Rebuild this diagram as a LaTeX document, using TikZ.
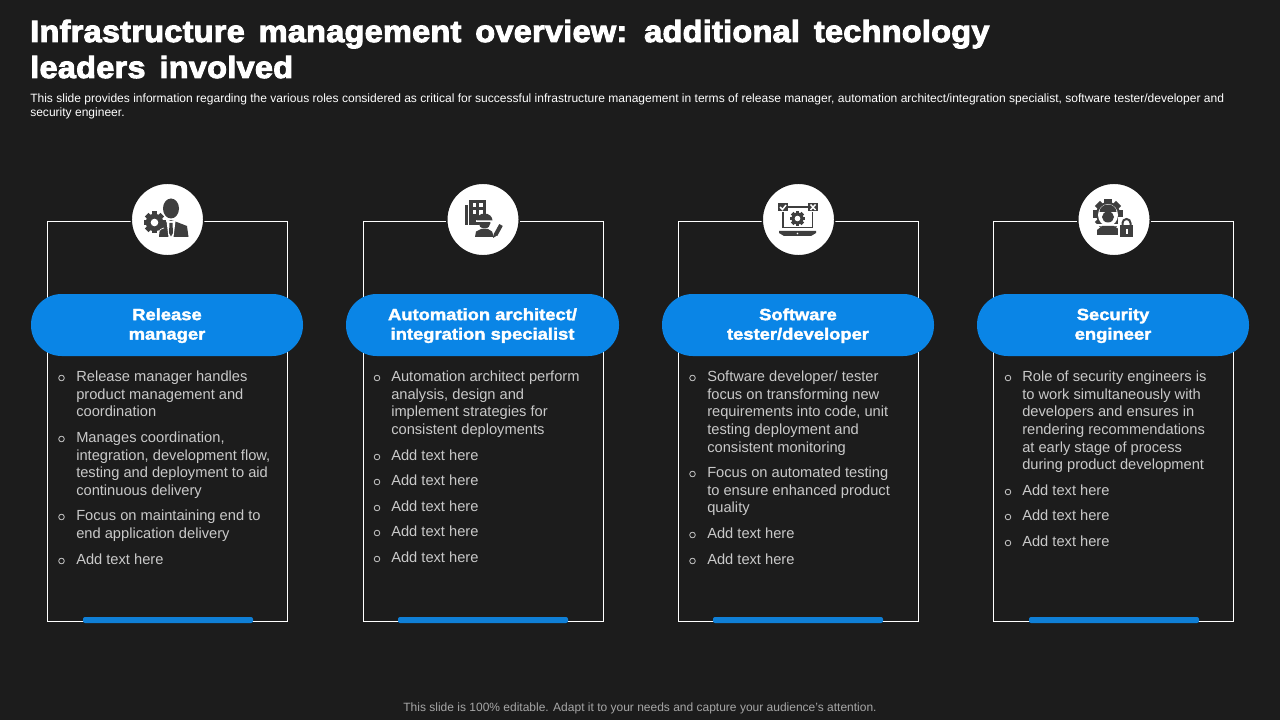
\documentclass[tikz,border=0pt]{standalone}
\usepackage{fontspec}
\setmainfont{Liberation Sans}
\newfontfamily\titlefont[FakeBold=3.2,FakeStretch=1.06,LetterSpace=0.8,WordSpace=1.5]{Liberation Sans Bold}
\newfontfamily\pillfont[FakeBold=2.2,FakeStretch=1.13]{Liberation Sans Bold}
\definecolor{bg}{HTML}{1C1C1C}
\definecolor{pill}{HTML}{0A85E6}
\definecolor{barblue}{HTML}{0F7FD6}
\definecolor{body}{HTML}{C9C9C9}
\definecolor{foot}{HTML}{A6A6A6}
\definecolor{ico}{HTML}{3E3E3E}
\tikzset{
  card/.style={draw=white,line width=0.75pt,fill=none},
  disc/.style={circle,fill=white,draw=bg,line width=1.1pt,minimum size=72.5*0.75pt,inner sep=0pt},
  pillbox/.style={rounded corners=23pt,fill=pill},
  pilltext/.style={align=center,text=white,font=\pillfont\fontsize{12.2}{14.6}\selectfont,inner sep=0pt},
  bartop/.style={rounded corners=1.5pt,fill=barblue},
  line/.style={anchor=base west,inner sep=0pt,text=body,font=\fontsize{11}{13}\selectfont},
  bul/.style={circle,draw=body,line width=0.6pt,minimum size=4.2pt,inner sep=0pt},
}
\newcommand{\gearshape}[3]{% cx cy r
  \fill[ico] (#1,#2) circle ({#3*0.8});
  \foreach \a in {0,45,...,315}{
    \fill[ico,rotate around={\a:(#1,#2)}] ({#1-#3*0.24},{#2-#3}) rectangle ({#1+#3*0.24},{#2-#3*0.6});
  }
}
\newcommand{\txt}[4]{\node[line] (#1) at (#2,#3+5.6) {#4};}
\newcommand{\bu}[3]{\node[bul] (#1) at (#2,#3+2) {};}
\begin{document}
\begin{tikzpicture}[x=0.75pt,y=-0.75pt]
\useasboundingbox (0,0) rectangle (1280,720);
\fill[bg] (0,0) rectangle (1280,720);
% heading
\node[anchor=base west,inner sep=0pt,text=white,font=\titlefont\fontsize{23}{27}\selectfont] (t1) at (30,42) {Infrastructure management overview: additional technology};
\node[anchor=base west,inner sep=0pt,text=white,font=\titlefont\fontsize{23}{27}\selectfont] (t2) at (30,78) {leaders involved};
\node[anchor=base west,inner sep=0pt,text=white,font=\fontsize{9.03}{11}\selectfont] (s1) at (30,103) {This slide provides information regarding the various roles considered as critical for successful infrastructure management in terms of release manager, automation architect/integration specialist, software tester/developer and};
\node[anchor=base west,inner sep=0pt,text=white,font=\fontsize{9.03}{11}\selectfont] (s2) at (30,117) {security engineer.};
\node[text=foot,inner sep=0pt,font=\fontsize{9}{11}\selectfont] (foot) at (640,708.5) {This slide is 100\% editable. Adapt it to your needs and capture your audience's attention.};
% cards
\draw[card] (47.5,221.5) rectangle (287.5,621.5);
\draw[card] (363.5,221.5) rectangle (603.5,621.5);
\draw[card] (678.5,221.5) rectangle (918.5,621.5);
\draw[card] (993.5,221.5) rectangle (1233.5,621.5);
% bars
\fill[bartop] (83,617) rectangle (253,623);
\fill[bartop] (398,617) rectangle (568,623);
\fill[bartop] (713,617) rectangle (883,623);
\fill[bartop] (1029,617) rectangle (1199,623);
% pills
\fill[pillbox] (31,294) rectangle (303,356);
\fill[pillbox] (346,294) rectangle (619,356);
\fill[pillbox] (662,294) rectangle (934,356);
\fill[pillbox] (977,294) rectangle (1249,356);
\node[pilltext] (p1) at (167,325.7) {Release\\manager};
\node[pilltext] (p2) at (482.5,325.7) {Automation architect/\\integration specialist};
\node[pilltext] (p3) at (798,325.7) {Software\\tester/developer};
\node[pilltext] (p4) at (1113,325.7) {Security\\engineer};
% discs
\node[disc] (d1) at (167.5,219.5) {};
\node[disc] (d2) at (483,219.5) {};
\node[disc] (d3) at (798.5,219.5) {};
\node[disc] (d4) at (1114,219.5) {};
% icon 1: manager + gear
\gearshape{154.5}{222.5}{11}
\fill[white] (154.5,222.5) circle (3.8);
\fill[ico] (171,208.5) ellipse (8 and 10);
\fill[ico] (159,237) -- (160,226) -- (165,222.5) -- (171,220) -- (178,222.5) -- (187,226) -- (188.5,237) -- cycle;
\fill[white] (166.5,221) -- (175.5,221) -- (173.5,237) -- (168.5,237) -- cycle;
\fill[ico] (169.5,223) -- (172.5,223) -- (173,233) -- (171,236.5) -- (169,233) -- cycle;
\draw[white,line width=0.5pt] (155,236) .. controls (160,233) and (158,229) .. (164,228);
% icon 2: building + worker
\fill[ico] (469,200) rectangle (486,225);
\fill[ico] (465,205) rectangle (467.5,225);
\foreach \x in {472.5,479}{\foreach \y in {203.5,210}{\fill[white] (\x,\y) rectangle ++(3.8,3.8);}}
\fill[white] (479,214) rectangle (497,232);
\fill[ico] (484.5,223) ellipse (6 and 5.5);
\fill[white] (476,220.5) rectangle (493,222);
\fill[ico] (476.5,220.5) arc[start angle=180,end angle=360,x radius=8,y radius=7] -- cycle;
\fill[ico] (475,237) -- (476,231.5) -- (481,229) -- (488,229) -- (492,231.5) -- (494,237) -- cycle;
\draw[ico,line width=3pt] (495.5,235) -- (501,225);
\fill[ico] (493,238) -- (494,233.5) -- (497,235.5) -- cycle;
% icon 3: laptop
\draw[ico,line width=1.4pt] (783,212) -- (783,227.5) -- (812.5,227.5) -- (812.5,212);
\draw[ico,line width=1.2pt] (788,207) -- (808,207);
\fill[ico] (779,231) -- (816,231) -- (816,233) -- (811,236) -- (784,236) -- (779,233) -- cycle;
\fill[white] (797.5,233.5) circle (0.9);
\fill[ico] (778,203) rectangle (788,211.5);
\draw[white,line width=1.1pt] (780,207) -- (782.5,209.5) -- (786,205);
\fill[ico] (808,203) rectangle (818,211.5);
\draw[white,line width=1.1pt] (810.5,204.5) -- (815.5,210) (815.5,204.5) -- (810.5,210);
\gearshape{797.5}{218.5}{7.5}
\fill[white] (797.5,218.5) circle (2.8);
% icon 4: gear worker + lock
\gearshape{1108}{214}{15}
\fill[white] (1108,215) ellipse (10 and 11);
\fill[ico] (1099.5,212) arc[start angle=180,end angle=360,x radius=8.5,y radius=7.5] -- cycle;
\fill[ico] (1108,217) ellipse (6 and 5.5);
\fill[white] (1096,224) rectangle (1120,226);
\fill[ico] (1097,235) -- (1097,230) -- (1102,226) -- (1114,226) -- (1120,230) -- (1120,235) -- cycle;
\fill[white] (1118,217) rectangle (1135,239);
\draw[ico,line width=1.5pt] (1122.5,225) -- (1122.5,223) arc[start angle=180,end angle=360,x radius=4,y radius=4] -- (1130.5,225);
\fill[ico] (1120,225) rectangle (1133,237.5);
\fill[white] (1125.5,229) rectangle (1127.5,234);
% card 1 text
\bu{b11}{61.5}{376}
\txt{a1}{76}{376}{Release manager handles}
\txt{a2}{76}{394}{product management and}
\txt{a3}{76}{411}{coordination}
\bu{b12}{61.5}{437}
\txt{a4}{76}{437}{Manages coordination,}
\txt{a5}{76}{455}{integration, development flow,}
\txt{a6}{76}{472}{testing and deployment to aid}
\txt{a7}{76}{490}{continuous delivery}
\bu{b13}{61.5}{515}
\txt{a8}{76}{515}{Focus on maintaining end to}
\txt{a9}{76}{533}{end application delivery}
\bu{b14}{61.5}{559}
\txt{a10}{76}{559}{Add text here}
% card 2 text
\bu{b21}{377}{376}
\txt{c1}{391}{376}{Automation architect perform}
\txt{c2}{391}{394}{analysis, design and}
\txt{c3}{391}{411}{implement strategies for}
\txt{c4}{391}{429}{consistent deployments}
\bu{b22}{377}{455}
\txt{c5}{391}{455}{Add text here}
\bu{b23}{377}{480}
\txt{c6}{391}{480}{Add text here}
\bu{b24}{377}{506}
\txt{c7}{391}{506}{Add text here}
\bu{b25}{377}{531}
\txt{c8}{391}{531}{Add text here}
\bu{b26}{377}{557}
\txt{c9}{391}{557}{Add text here}
% card 3 text
\bu{b31}{692.5}{376}
\txt{e1}{707}{376}{Software developer/ tester}
\txt{e2}{707}{394}{focus on transforming new}
\txt{e3}{707}{411}{requirements into code, unit}
\txt{e4}{707}{429}{testing deployment and}
\txt{e5}{707}{447}{consistent monitoring}
\bu{b32}{692.5}{472}
\txt{e6}{707}{472}{Focus on automated testing}
\txt{e7}{707}{490}{to ensure enhanced product}
\txt{e8}{707}{507}{quality}
\bu{b33}{692.5}{533}
\txt{e9}{707}{533}{Add text here}
\bu{b34}{692.5}{559}
\txt{e10}{707}{559}{Add text here}
% card 4 text
\bu{b41}{1008}{376}
\txt{g1}{1022}{376}{Role of security engineers is}
\txt{g2}{1022}{394}{to work simultaneously with}
\txt{g3}{1022}{411}{developers and ensures in}
\txt{g4}{1022}{429}{rendering recommendations}
\txt{g5}{1022}{447}{at early stage of process}
\txt{g6}{1022}{464}{during product development}
\bu{b42}{1008}{490}
\txt{g7}{1022}{490}{Add text here}
\bu{b43}{1008}{515}
\txt{g8}{1022}{515}{Add text here}
\bu{b44}{1008}{541}
\txt{g9}{1022}{541}{Add text here}
\end{tikzpicture}
\end{document}
